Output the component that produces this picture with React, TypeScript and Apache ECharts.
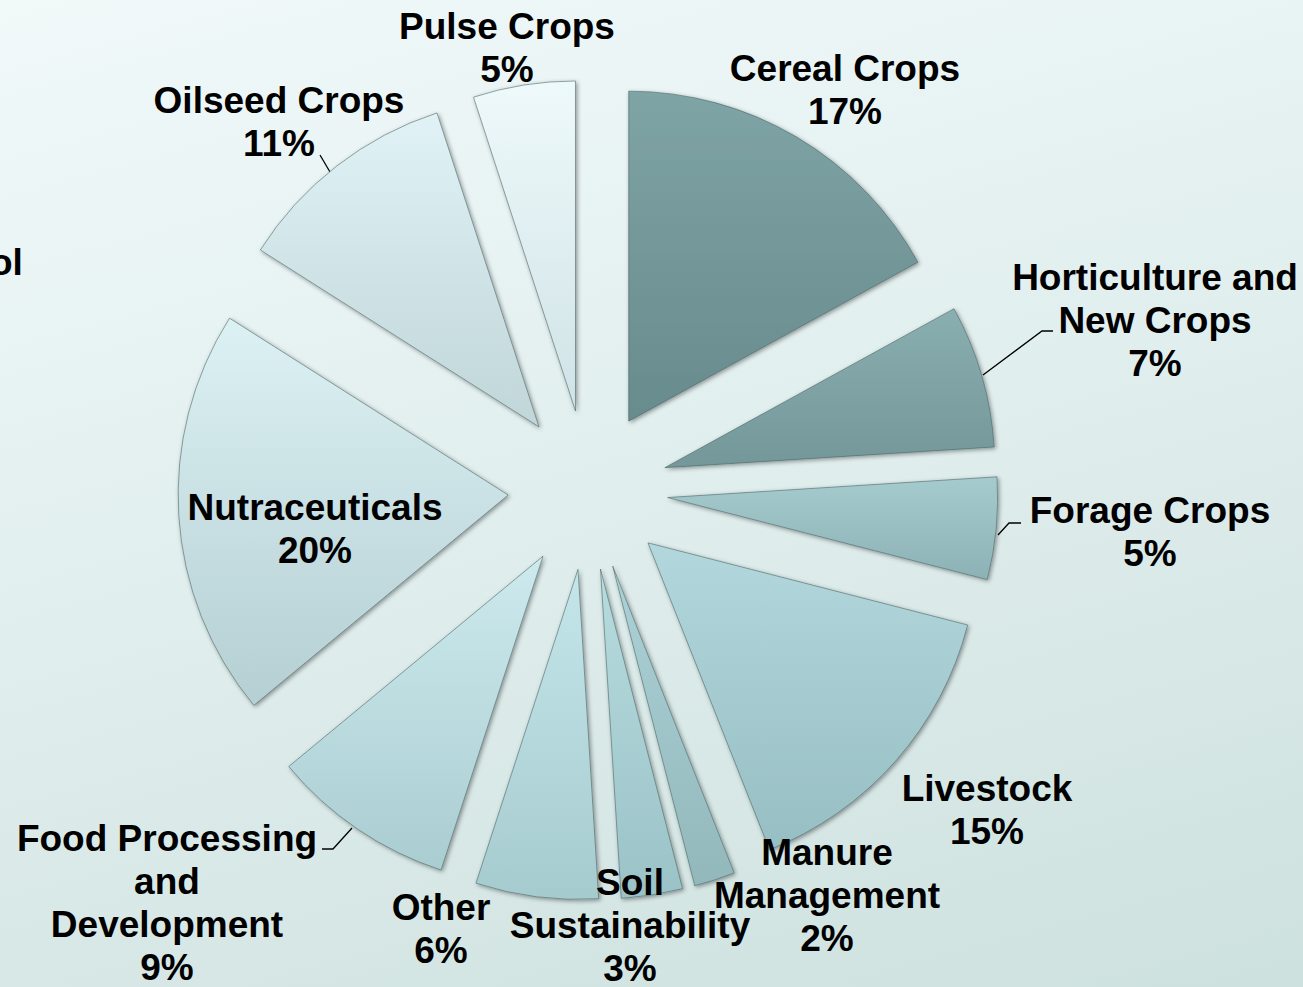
import React, { useEffect, useRef } from "react";
import * as echarts from "echarts";

// ---- data ----
const categories = [
  "Cereal Crops",
  "Horticulture and New Crops",
  "Forage Crops",
  "Livestock",
  "Manure Management",
  "Soil Sustainability",
  "Other",
  "Food Processing and Development",
  "Nutraceuticals",
  "Oilseed Crops",
  "Pulse Crops",
];
const shares = [17, 7, 5, 15, 2, 3, 6, 9, 20, 11, 5];
const labelNames = [
  "Cereal Crops",
  "Horticulture and\nNew Crops",
  "Forage Crops",
  "Livestock",
  "Manure\nManagement",
  "Soil\nSustainability",
  "Other",
  "Food Processing\nand\nDevelopment",
  "Nutraceuticals",
  "Oilseed Crops",
  "Pulse Crops",
];

// ---- styling / layout ----
const PIE_CENTER: [number, number] = [588, 490];
const PIE_RADIUS = 330;
const EXPLODE = 80;
const sliceColors: [string, string][] = [
  ["#7fa4a6", "#688b8d"],
  ["#8aafb1", "#749799"],
  ["#a5cbcf", "#8cb2b6"],
  ["#b2d8dd", "#97bec3"],
  ["#acd2d7", "#92b8bc"],
  ["#b6dce0", "#9bc2c6"],
  ["#c4e6ea", "#a6cbcf"],
  ["#cdeaee", "#aacdd1"],
  ["#dcf1f4", "#b5cfd3"],
  ["#e0f2f5", "#c0d6d9"],
  ["#eef9fb", "#d0e3e6"],
];
const labelAnchors: [number, number][] = [
  [845, 90],
  [1155, 320],
  [1150, 532],
  [987, 810],
  [827, 895],
  [630, 925],
  [441, 929],
  [167, 903],
  [315, 529],
  [279, 122],
  [507, 48],
];
const leaderLines: ([number, number][] | null)[] = [
  null,
  [[983, 375], [1042, 331], [1053, 331]],
  [[998, 535], [1009, 523], [1021, 523]],
  null,
  null,
  null,
  null,
  [[352, 828], [333, 849], [322, 849]],
  null,
  [[330, 172], [320, 155], [320, 155]],
  null,
];

const total = shares.reduce((a, b) => a + b, 0);
const midAngles = shares.map((v, i) => {
  const before = shares.slice(0, i).reduce((a, b) => a + b, 0);
  return ((before + v / 2) / total) * Math.PI * 2;
});

export default function App() {
  const ref = useRef<HTMLDivElement>(null);
  useEffect(() => {
    document.body.style.margin = "0";
    const chart = echarts.init(ref.current!, undefined, { renderer: "svg" });
    const font = "'Liberation Sans', Arial, sans-serif";

    const series = categories.map((_, i) => {
      const a = midAngles[i];
      const center = [
        PIE_CENTER[0] + EXPLODE * Math.sin(a),
        PIE_CENTER[1] - EXPLODE * Math.cos(a),
      ];
      const data = categories.map((name, j) => {
        const visible = i === j;
        return {
          name,
          value: shares[j],
          itemStyle: visible
            ? {
                color: new echarts.graphic.LinearGradient(0, 0, 0, 1, [
                  { offset: 0, color: sliceColors[j][0] },
                  { offset: 1, color: sliceColors[j][1] },
                ]),
                borderColor: "rgba(70,95,95,0.55)",
                borderWidth: 1,
                shadowColor: "rgba(0,0,0,0.4)",
                shadowBlur: 4,
                shadowOffsetX: 1.5,
                shadowOffsetY: 1.5,
              }
            : {
                color: "rgba(0,0,0,0)",
                borderWidth: 0,
                shadowBlur: 0,
              },
          label: { show: visible },
          labelLine: { show: visible && leaderLines[j] != null },
        };
      });
      return {
        type: "pie",
        name: categories[i],
        center,
        radius: PIE_RADIUS,
        startAngle: 90,
        clockwise: true,
        avoidLabelOverlap: false,
        emphasis: { disabled: true },
        silent: true,
        label: {
          position: "outside",
          formatter: (p: any) => `${labelNames[p.dataIndex]}\n${p.value}%`,
          fontFamily: font,
          fontWeight: "bold",
          fontSize: 37,
          lineHeight: 43,
          color: "#000",
          align: "center",
        },
        labelLine: {
          length: 10,
          length2: 10,
          lineStyle: { color: "#000", width: 1.3 },
        },
        labelLayout: (p: any) => {
          if (p.dataIndex !== i) return {};
          const out: any = {
            x: labelAnchors[i][0],
            y: labelAnchors[i][1],
            align: "center",
            verticalAlign: "middle",
          };
          if (leaderLines[i]) out.labelLinePoints = leaderLines[i];
          return out;
        },
        data,
      };
    });

    chart.setOption({
      animation: false,
      graphic: [
        {
          type: "text",
          x: -10,
          y: 262,
          style: {
            text: "ol",
            font: `bold 37px ${font}`,
            fill: "#000",
            verticalAlign: "middle",
          },
        },
      ],
      series,
    });
    return () => chart.dispose();
  }, []);
  return (
    <div
      ref={ref}
      style={{
        width: 1303,
        height: 987,
        background:
          "linear-gradient(165deg, #f1f9f9 0%, #e2efef 45%, #cde1de 100%)",
      }}
    />
  );
}
